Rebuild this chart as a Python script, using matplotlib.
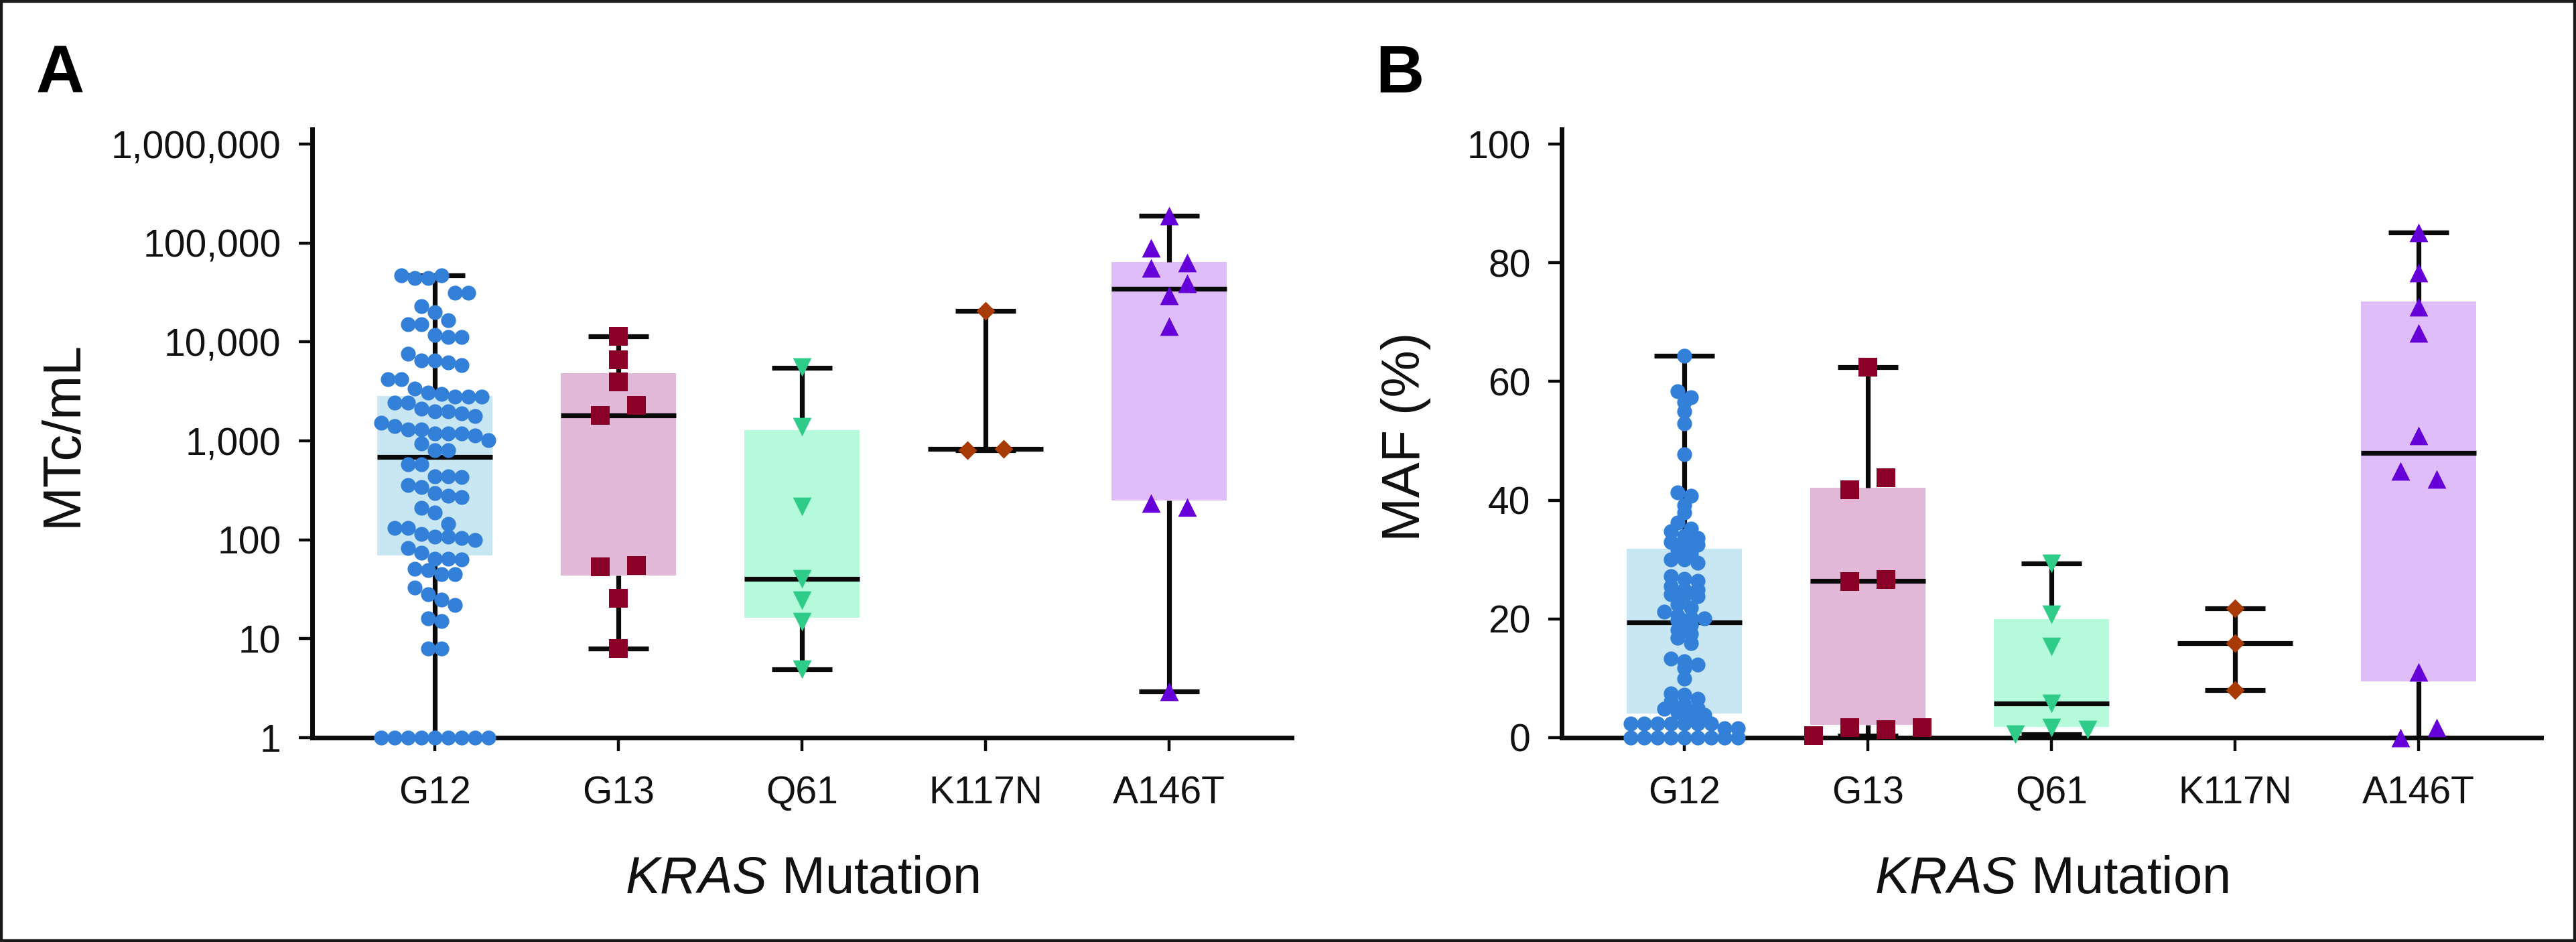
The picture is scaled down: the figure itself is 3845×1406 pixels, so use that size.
import numpy as np
import matplotlib
matplotlib.use("Agg")
import matplotlib.pyplot as plt
from matplotlib.patches import Rectangle
from matplotlib.ticker import NullLocator

plt.rcParams['font.family'] = ['Liberation Sans', 'DejaVu Sans']
plt.rcParams['mathtext.fontset'] = 'custom'
plt.rcParams['mathtext.rm'] = 'Liberation Sans'
plt.rcParams['mathtext.it'] = 'Liberation Sans:italic'

# ---- data ----
mutations = ['G12', 'G13', 'Q61', 'K117N', 'A146T']

# panel A: MTc/mL per patient
mtc_g12 = [47000, 44000, 44000, 47000, 31600, 31600, 23000, 20000, 16700, 15200, 15200,
           11700, 11200, 11200, 7600, 6500, 6500, 6200, 5800, 4200, 4200, 3400, 3100, 3000,
           2800, 2800, 2800, 2450, 2450, 2100, 2000, 2000, 1900, 1780, 1520, 1410, 1300, 1300,
           1180, 1180, 1180, 1130, 1020, 940, 800, 800, 580, 580, 440, 440, 430, 360, 340, 295,
           280, 270, 210, 190, 145, 132, 132, 115, 107, 107, 105, 100, 83, 74, 64, 64, 63, 51,
           49, 45, 45, 33, 28, 25, 22, 16, 15, 8, 8, 1, 1, 1, 1, 1, 1, 1, 1, 1]
mtc_g13 = [11350, 6600, 3950, 1820, 2300, 53, 55, 25.5, 8]
mtc_q61 = [5550, 1390, 217, 40, 24.5, 14.8, 4.9]
mtc_k117n = [20500, 800, 830]
mtc_a146t = [188000, 88700, 63000, 55600, 38900, 29500, 14500, 234, 213, 2.94]

# box summary
mtc_low = [1, 8, 4.9, 810, 2.94]
mtc_q1 = [70, 43.5, 16.3, 830, 250]
mtc_med = [690, 1820, 40, 830, 34500]
mtc_q3 = [2840, 4800, 1275, 830, 64000]
mtc_high = [47000, 11350, 5500, 20500, 188000]

# panel B: MAF (%) per patient
maf_g12 = [64.4, 58.4, 57.4, 56.6, 55.0, 52.9, 47.7, 41.3, 40.7, 39.2, 37.9, 36.2, 35.2,
           34.8, 34.0, 33.6, 33.0, 32.8, 32.5, 31.7, 31.0, 30.0, 30.0, 29.5, 27.2, 26.8,
           26.4, 25.5, 24.9, 24.9, 24.2, 23.9, 23.8, 22.5, 21.9, 21.2, 20.6, 20.2, 20.1,
           19.7, 19.0, 18.2, 17.5, 16.8, 15.9, 13.3, 12.9, 12.3, 11.7, 9.9, 7.4, 7.2, 6.6,
           6.1, 5.5, 5.0, 4.8, 4.3, 3.8, 3.8, 2.4, 2.4, 2.4, 2.4, 2.4, 2.4, 2.4, 1.6, 1.6,
           0, 0, 0, 0, 0, 0, 0, 0, 0]
maf_g13 = [62.4, 41.8, 43.8, 26.3, 26.6, 0.3, 1.7, 1.4, 1.7]
maf_q61 = [29.4, 20.8, 15.4, 5.8, 0.6, 1.7, 1.3]
maf_k117n = [21.8, 15.9, 8.0]
maf_a146t = [85.1, 78.3, 72.6, 68.2, 50.9, 44.9, 43.6, 11.1, 0.0, 1.7]

maf_low = [0, 0.3, 0.6, 8.0, 0]
maf_q1 = [4.1, 2.2, 1.85, 15.9, 9.5]
maf_med = [19.4, 26.4, 5.75, 15.9, 48.0]
maf_q3 = [31.8, 42.1, 20.0, 15.9, 73.5]
maf_high = [64.4, 62.4, 29.4, 21.8, 85.1]

mtc_ticks = [1, 10, 100, 1000, 10000, 100000, 1000000]
mtc_ticklabels = ['1', '10', '100', '1,000', '10,000', '100,000', '1,000,000']
maf_ticks = [0, 20, 40, 60, 80, 100]

# ---- styles ----
box_colors = ['#c9e7f3', '#e2b8d9', '#b6fadc', 'none', '#dfbdf9']
dot_colors = ['#3380d8', '#8a0026', '#2ecc88', '#a83b05', '#6500d8']
markers = ['o', 's', 'v', 'D', '^']
msizes = [16, 20, 20, 14.3, 20]
ink = '#0a0a0a'
lw = 5.2

W, H = 3845, 1406
fig = plt.figure(figsize=(W / 100, H / 100), dpi=100)
axA = fig.add_axes([466 / W, 305 / H, 1462 / W, 908 / H])
axB = fig.add_axes([2331 / W, 305 / H, 1462 / W, 908 / H])


def row_offsets(ypix, h, s):
    # group points into horizontal rows (top-down) and spread each row evenly
    order = sorted(range(len(ypix)), key=lambda i: -ypix[i])
    rows, row, start = [], [order[0]], ypix[order[0]]
    for i in order[1:]:
        if start - ypix[i] < h:
            row.append(i)
        else:
            rows.append(row)
            row, start = [i], ypix[i]
    rows.append(row)
    offs = np.zeros(len(ypix))
    for r in rows:
        r = sorted(r)
        for j, i in enumerate(r):
            offs[i] = (j - (len(r) - 1) / 2) * s
    return offs


def draw_panel(ax, points, low, q1, med, q3, high, g12_row):
    pos = np.arange(1, 6)
    stats = [dict(whislo=low[i], q1=q1[i], med=med[i], q3=q3[i], whishi=high[i], fliers=[])
             for i in range(5)]
    bp = ax.bxp(stats, positions=pos, widths=0.63, capwidths=0.33, patch_artist=True,
                showfliers=False, manage_ticks=False,
                boxprops=dict(linewidth=0),
                medianprops=dict(color=ink, linewidth=lw, solid_capstyle='butt'),
                whiskerprops=dict(color=ink, linewidth=lw, solid_capstyle='butt'),
                capprops=dict(color=ink, linewidth=lw, solid_capstyle='butt'))
    for patch, c in zip(bp['boxes'], box_colors):
        patch.set_facecolor(c)
        patch.set_edgecolor('none')

    ax.set_xlim(0.332, 5.668)
    ax.set_xticks(pos, mutations)
    for sp in ['top', 'right']:
        ax.spines[sp].set_visible(False)
    for sp in ['left', 'bottom']:
        ax.spines[sp].set_linewidth(5)
        ax.spines[sp].set_color(ink)
    ax.tick_params(axis='both', length=14.4, width=3.2, color=ink, labelsize=41,
                   labelcolor='#111111')
    ax.tick_params(axis='x', pad=26)
    ax.tick_params(axis='y', pad=19)

    ppu = ax.transData.transform([(1, 1)])[0, 0] - ax.transData.transform([(0, 1)])[0, 0]
    for i, vals in enumerate(points):
        vals = np.asarray(vals, dtype=float)
        ypix = ax.transData.transform(np.column_stack([np.full(len(vals), pos[i]), vals]))[:, 1]
        if i == 0:
            h, s = g12_row
        else:
            h, s = 28, 54
        x = pos[i] + row_offsets(ypix, h, s) / ppu
        ax.scatter(x, vals, s=msizes[i] ** 2, marker=markers[i], color=dot_colors[i],
                   linewidths=0, zorder=4, clip_on=False)


# panel A
axA.set_yscale('log')
axA.set_ylim(1, 10 ** 6.15)
axA.set_yticks(mtc_ticks, mtc_ticklabels)
axA.yaxis.set_minor_locator(NullLocator())
draw_panel(axA, [mtc_g12, mtc_g13, mtc_q61, mtc_k117n, mtc_a146t],
           mtc_low, mtc_q1, mtc_med, mtc_q3, mtc_high, (26, 20))

# panel B
axB.set_ylim(0, 102.5)
axB.set_yticks(maf_ticks)
draw_panel(axB, [maf_g12, maf_g13, maf_q61, maf_k117n, maf_a146t],
           maf_low, maf_q1, maf_med, maf_q3, maf_high, (11, 20))

# labels
fig.text(54 / W, 1 - 138 / H, 'A', fontsize=72, fontweight='bold', ha='left', va='baseline')
fig.text(2053 / W, 1 - 138 / H, 'B', fontsize=72, fontweight='bold', ha='left', va='baseline')
fig.text(115 / W, 1 - 647 / H, 'MTc/mL', fontsize=57, rotation=90, rotation_mode='anchor',
         ha='center', va='baseline', color='#111111')
fig.text(2119 / W, 1 - 652 / H, 'MAF (%)', fontsize=57, rotation=90, rotation_mode='anchor',
         ha='center', va='baseline', color='#111111')
fig.text(1197 / W, 1 - 1333 / H, r'$\mathit{KRAS}$ Mutation', fontsize=56,
         ha='center', va='baseline', color='#111111')
fig.text(3062 / W, 1 - 1333 / H, r'$\mathit{KRAS}$ Mutation', fontsize=56,
         ha='center', va='baseline', color='#111111')

fig.add_artist(Rectangle((0, 0), 1, 1, transform=fig.transFigure, fill=False,
                         linewidth=6, edgecolor='#1a1a1a'))

fig.savefig('out.png', dpi=100, facecolor='white')
